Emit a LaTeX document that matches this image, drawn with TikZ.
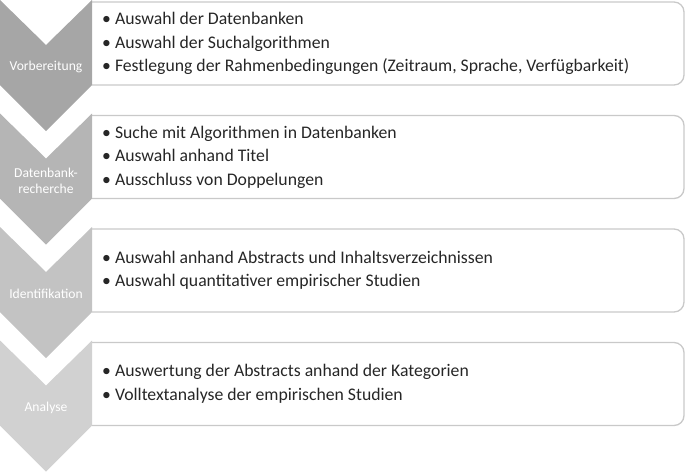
\documentclass[tikz,border=0pt]{standalone}
\usepackage{fontspec}
\setmainfont{Carlito}
\begin{document}
\begin{tikzpicture}[x=1pt, y=-1pt,
  stufe/.style={text=white, font=\fontsize{13.6}{16}\selectfont, align=center, inner sep=0pt},
  liste/.style={anchor=west, align=left, text=black!85, font=\fontsize{17.7}{23.5}\selectfont, inner sep=0pt},
  rahmen/.style={draw=black!21, line width=1.3pt, rounded corners=10pt}]
\useasboundingbox (0,0) rectangle (685,472);

% Rahmen rechts
\draw[rahmen] (92,2) -- (684,2) -- (684,85) -- (92,85);
\draw[rahmen] (92,115.5) -- (684,115.5) -- (684,198.5) -- (92,198.5);
\draw[rahmen] (92,229) -- (684,229) -- (684,312) -- (92,312);
\draw[rahmen] (92,342.5) -- (684,342.5) -- (684,425.5) -- (92,425.5);

% Pfeile links
\fill[black!35] (0,0) -- (46,45) -- (92,0) -- (92,85) -- (46,131) -- (0,85) -- cycle;
\fill[black!29] (0,113.5) -- (46,158.5) -- (92,113.5) -- (92,198.5) -- (46,244.5) -- (0,198.5) -- cycle;
\fill[black!23.5] (0,227) -- (46,272) -- (92,227) -- (92,312) -- (46,358) -- (0,312) -- cycle;
\fill[black!18] (0,340.5) -- (46,385.5) -- (92,340.5) -- (92,425.5) -- (46,471.5) -- (0,425.5) -- cycle;

\node[stufe] (V) at (46,67) {Vorbereitung};
\node[stufe] (D) at (46,180.5) {Datenbank-\\recherche};
\node[stufe] (I) at (46,294) {Identifikation};
\node[stufe] (A) at (46,407.5) {Analyse};

\node[liste] (L1) at (102,43.5) {• Auswahl der Datenbanken\\• Auswahl der Suchalgorithmen\\• Festlegung der Rahmenbedingungen (Zeitraum, Sprache, Verfügbarkeit)};
\node[liste] (L2) at (102,157) {• Suche mit Algorithmen in Datenbanken\\• Auswahl anhand Titel\\• Ausschluss von Doppelungen};
\node[liste] (L3) at (102,270.5) {• Auswahl anhand Abstracts und Inhaltsverzeichnissen\\• Auswahl quantitativer empirischer Studien};
\node[liste] (L4) at (102,384) {• Auswertung der Abstracts anhand der Kategorien\\• Volltextanalyse der empirischen Studien};
\end{tikzpicture}
\end{document}
